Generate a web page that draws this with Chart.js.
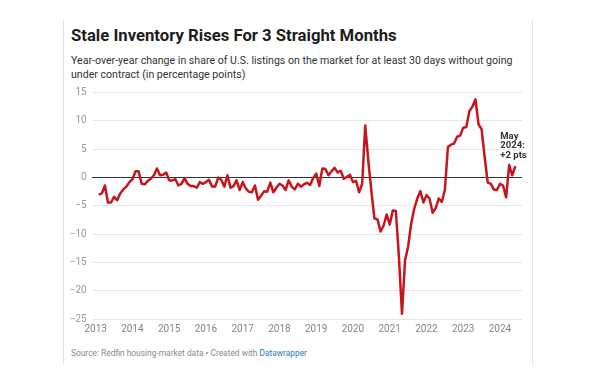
<!DOCTYPE html>
<html>
<head>
<meta charset="utf-8">
<script src="https://cdn.jsdelivr.net/npm/chart.js@4/dist/chart.umd.min.js"></script>
<style>
  body { margin: 0; background: #fff; font-family: Roboto, sans-serif; }
  #wrap { position: relative; width: 600px; height: 383px; overflow: hidden; }
  .edge { position: absolute; top: 20px; width: 1px; height: 345px; background: #e3e3e3; }
  #title { position: absolute; left: 71px; top: 26px; font-size: 16.7px; line-height: 20px; font-weight: bold; color: #1d1d1d; white-space: nowrap; }
  #sub { position: absolute; left: 71px; top: 54px; width: 455px; font-size: 10.6px; line-height: 13.5px; color: #333; }
  #src { position: absolute; left: 71px; top: 347px; font-size: 8.4px; line-height: 12px; color: #8a8a8a; white-space: nowrap; }
  #src span { color: #2d7ab8; }
  #box { position: absolute; left: 0; top: 80px; width: 600px; height: 260px; }
</style>
</head>
<body>
<div id="wrap">
  <div class="edge" style="left:63px"></div>
  <div class="edge" style="left:532px"></div>
  <div id="title">Stale Inventory Rises For 3 Straight Months</div>
  <div id="sub">Year-over-year change in share of U.S. listings on the market for at least 30 days without going under contract (in percentage points)</div>
  <div id="box"><canvas id="myChart" width="600" height="260"></canvas></div>
  <div id="src">Source: Redfin housing-market data • Created with <span>Datawrapper</span></div>
</div>
<script>
// monthly values, Jan 2013 .. May 2024 (percentage points, YoY)
var startYear = 2013;
var staleChange = [
  -3.0, -2.8, -1.4, -4.4, -4.4, -3.4, -4.0, -2.8, -2.1, -1.6, -0.8, -0.3, // 2013
  1.1, 1.1, -1.1, -1.2, -0.6, -0.2, 0.4, 1.6, 0.4, 0.5, 0.9, -0.5,       // 2014
  -0.5, -0.3, -1.4, -1.1, -0.1, -1.1, -1.5, -1.5, -1.8, -0.8, -1.1, -0.8, // 2015
  -0.4, -1.6, -1.6, 0.0, -0.4, -1.6, 0.4, -1.8, -1.5, -0.5, -2.2, -0.8,  // 2016
  -1.9, -2.5, -2.6, -1.4, -3.9, -3.2, -2.4, -2.5, -0.9, -2.6, -1.8, -1.1, // 2017
  -1.4, -2.2, -0.5, -1.6, -2.1, -1.1, -1.6, -1.2, -0.9, -1.3, -0.1, 0.7, // 2018
  -1.5, 1.6, 1.5, 0.4, 1.1, 1.7, 0.9, 1.2, -0.2, 0.1, 0.5, -0.8,         // 2019
  -0.6, -2.6, -1.1, 9.2, 3.0, -2.4, -7.2, -7.4, -9.5, -8.5, -6.5, -8.3,  // 2020
  -5.8, -5.9, -14.0, -24.0, -14.6, -12.2, -8.1, -5.5, -3.7, -2.4, -4.4, -3.1, // 2021
  -3.7, -6.2, -5.4, -3.7, -4.3, -2.2, 5.4, 5.8, 6.0, 7.2, 7.4, 8.8,      // 2022
  8.9, 11.7, 12.5, 13.8, 9.4, 8.5, 3.6, -0.9, -1.1, -2.1, -2.2, -1.1,    // 2023
  -1.4, -3.5, 2.2, 0.4, 2.0                                              // 2024
];
var yearTicks = [2013, 2014, 2015, 2016, 2017, 2018, 2019, 2020, 2021, 2022, 2023, 2024];
var valueTicks = [-25, -20, -15, -10, -5, 0, 5, 10, 15];
var noteLines = ['May', '2024:', '+2 pts'];

// points sit at month end
var points = staleChange.map(function(v, i) {
  return { x: startYear + (i + 1) / 12, y: v };
});

var notePlugin = {
  id: 'note',
  afterDatasetsDraw: function(chart) {
    var meta = chart.getDatasetMeta(0);
    var last = meta.data[meta.data.length - 1];
    var ctx = chart.ctx;
    ctx.save();
    ctx.font = 'bold 9.5px Roboto';
    ctx.fillStyle = '#333';
    ctx.textBaseline = 'middle';
    noteLines.forEach(function(t, i) {
      ctx.fillText(t, last.x - 15, last.y - 30 + i * 9.8);
    });
    ctx.restore();
  }
};

var ctx = document.getElementById('myChart').getContext('2d');
var myChart = new Chart(ctx, {
  type: 'line',
  data: {
    datasets: [{
      data: points,
      borderColor: '#c4161c',
      borderWidth: 2.5,
      pointRadius: 0,
      tension: 0,
      borderJoinStyle: 'round'
    }]
  },
  plugins: [notePlugin],
  options: {
    responsive: false,
    animation: false,
    layout: { padding: { left: 61.7, right: 78, top: 12.5, bottom: 0 } },
    plugins: { legend: { display: false }, tooltip: { enabled: false } },
    scales: {
      x: {
        type: 'linear',
        min: 2012.891,
        max: 2024.599,
        afterBuildTicks: function(axis) {
          axis.ticks = yearTicks.map(function(v) { return { value: v }; });
        },
        afterFit: function(axis) { axis.height = 20.7; },
        grid: { display: false, drawTicks: false },
        border: { display: false },
        ticks: {
          padding: 4,
          maxRotation: 0,
          autoSkip: false,
          color: '#858585',
          font: { family: 'Roboto', size: 10 },
          callback: function(v) { return String(v); }
        }
      },
      y: {
        min: -25,
        max: 15,
        afterBuildTicks: function(axis) {
          axis.ticks = valueTicks.map(function(v) { return { value: v }; });
        },
        afterFit: function(axis) { axis.width = 30; },
        grid: {
          drawTicks: false,
          color: function(c) { return c.tick && c.tick.value === 0 ? '#333' : '#e6e6e6'; },
          lineWidth: 1
        },
        border: { display: false },
        ticks: {
          padding: 5,
          color: '#999',
          font: { family: 'Roboto', size: 10 },
          callback: function(v) { return String(v).replace('-', '\u2212'); }
        }
      }
    }
  }
});
</script>
</body>
</html>
